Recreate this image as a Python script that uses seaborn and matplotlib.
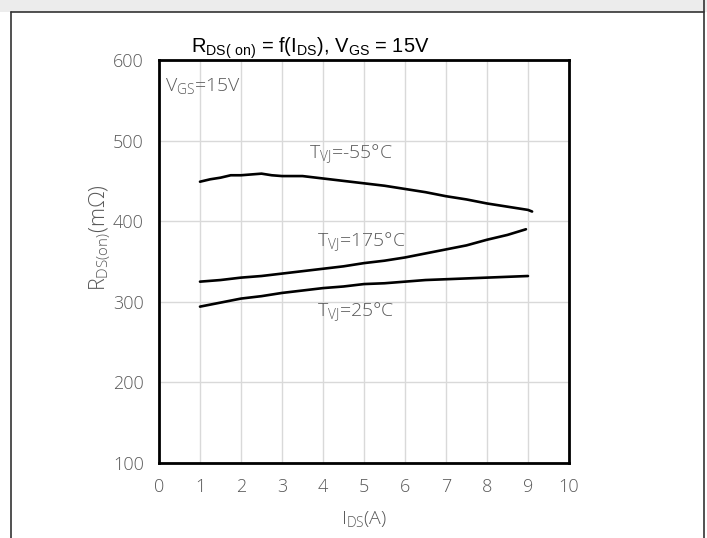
import numpy as np
import pandas as pd
import matplotlib
matplotlib.use('Agg')
import matplotlib.pyplot as plt
from matplotlib.lines import Line2D
from matplotlib.patches import Rectangle
import seaborn as sns

# ----------------------------------------------------------------------
# Data (RDS(on) vs IDS at VGS = 15V)
# ----------------------------------------------------------------------
I_MINUS55 = [1.0, 1.25, 1.5, 1.75, 2.0, 2.25, 2.5, 2.75, 3.0, 3.5, 4.0, 4.5,
             5.0, 5.5, 6.0, 6.5, 7.0, 7.5, 8.0, 8.5, 9.0, 9.1]
R_MINUS55 = [449, 452, 454, 457, 457, 458, 459, 457, 456, 456, 453, 450,
             447, 444, 440, 436, 431, 427, 422, 418, 414, 412]

I_175 = [1.0, 1.5, 2.0, 2.5, 3.0, 3.5, 4.0, 4.5, 5.0, 5.5, 6.0, 6.5,
         7.0, 7.5, 8.0, 8.5, 8.95]
R_175 = [325, 327, 330, 332, 335, 338, 341, 344, 348, 351, 355, 360,
         365, 370, 377, 383, 390]

I_25 = [1.0, 1.5, 2.0, 2.5, 3.0, 3.5, 4.0, 4.5, 5.0, 5.5, 6.0, 6.5,
        7.0, 7.5, 8.0, 8.5, 9.0]
R_25 = [294, 299, 304, 307, 311, 314, 317, 319, 322, 323, 325, 327,
        328, 329, 330, 331, 332]

X_TICKS = list(range(0, 11))
Y_TICKS = [100, 200, 300, 400, 500, 600]

TEXT_GRAY = '#595959'
LIGHT_FONT = ['Open Sans', 'DejaVu Sans']


def build_frame():
    parts = [
        pd.DataFrame({'I': I_MINUS55, 'R': R_MINUS55, 'T': '-55'}),
        pd.DataFrame({'I': I_175, 'R': R_175, 'T': '175'}),
        pd.DataFrame({'I': I_25, 'R': R_25, 'T': '25'}),
    ]
    return pd.concat(parts, ignore_index=True)


def main():
    sns.set_style('whitegrid')
    plt.rcParams['font.family'] = LIGHT_FONT

    fig = plt.figure(figsize=(7.07, 5.38), dpi=100)

    # outer frame like the datasheet box
    fig.add_artist(Rectangle((0, 1 - 12 / 538), 1, 12 / 538, transform=fig.transFigure,
                             facecolor='#ececec', edgecolor='none', zorder=0))
    for xs, ys in [((11 / 707, 11 / 707), (0, 1 - 12 / 538)),
                   ((704 / 707, 704 / 707), (0, 1)),
                   ((11 / 707, 704 / 707), (1 - 12 / 538, 1 - 12 / 538))]:
        fig.add_artist(Line2D(xs, ys, transform=fig.transFigure, color='#333333', lw=1.2))

    ax = fig.add_axes([159 / 707, 1 - 463 / 538, 410 / 707, 403 / 538])

    df = build_frame()
    sns.lineplot(data=df, x='I', y='R', hue='T', palette=['black'] * 3,
                 legend=False, linewidth=1.9, sort=False, ax=ax)

    ax.set_xlim(0, 10)
    ax.set_ylim(100, 600)
    ax.set_xticks(X_TICKS)
    ax.set_yticks(Y_TICKS)
    ax.tick_params(axis='x', length=0, labelsize=13, colors=TEXT_GRAY, pad=11)
    ax.tick_params(axis='y', length=0, labelsize=13, colors=TEXT_GRAY, pad=11)
    for lab in ax.get_xticklabels() + ax.get_yticklabels():
        lab.set_fontweight('light')

    ax.grid(True, color='#d9d9d9', linewidth=1.0)
    for s in ax.spines.values():
        s.set_color('black')
        s.set_linewidth(2.0)

    ax.set_xlabel(r'$\mathregular{I_{DS}}$(A)', fontsize=14, color=TEXT_GRAY,
                  fontweight='light', labelpad=9)
    ax.set_ylabel(r'$\mathregular{R_{DS(on)}}$(m$\mathregular{\Omega}$)', fontsize=15.5,
                  color=TEXT_GRAY, fontweight='light')
    ax.yaxis.set_label_coords(-0.115, 0.56)

    ax.set_title(r'$\mathregular{R_{DS(\ on)}}$ = f($\mathregular{I_{DS}}$), $\mathregular{V_{GS}}$ = 15V',
                 fontsize=14.5, family=['Liberation Sans', 'DejaVu Sans'], color='black',
                 pad=5, x=0.37)

    note_kw = dict(fontsize=14, color=TEXT_GRAY, fontweight='light', va='center')
    ax.text(0.15, 568, r'$\mathregular{V_{GS}}$=15V', **note_kw)
    ax.text(3.65, 485, r'$\mathregular{T_{VJ}}$=-55°C', **note_kw)
    ax.text(3.85, 375, r'$\mathregular{T_{VJ}}$=175°C', **note_kw)
    ax.text(3.85, 289, r'$\mathregular{T_{VJ}}$=25°C', **note_kw)

    fig.savefig('out.png', dpi=100)


if __name__ == '__main__':
    main()
